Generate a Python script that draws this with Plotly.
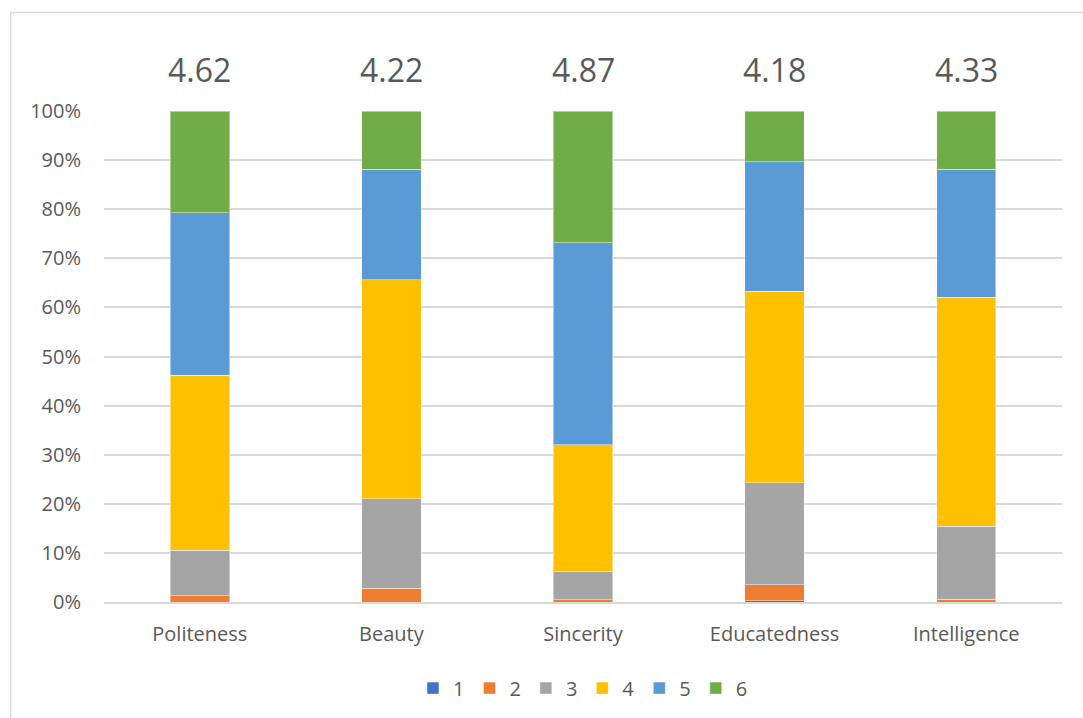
import plotly.graph_objects as go

# Rating distribution (% of respondents) per attribute, scale 1-6
categories = ["Politeness", "Beauty", "Sincerity", "Educatedness", "Intelligence"]
means = ["4.62", "4.22", "4.87", "4.18", "4.33"]
rating_1 = [0.0, 0.0, 0.0, 0.3, 0.0]
rating_2 = [1.3, 2.8, 0.5, 3.2, 0.6]
rating_3 = [9.2, 18.2, 5.8, 20.8, 14.8]
rating_4 = [35.7, 44.6, 25.7, 39.0, 46.7]
rating_5 = [33.1, 22.5, 41.2, 26.4, 26.0]
rating_6 = [20.7, 11.9, 26.8, 10.3, 11.9]
series_names = ["1", "2", "3", "4", "5", "6"]
y_ticks = [0, 10, 20, 30, 40, 50, 60, 70, 80, 90, 100]
y_tick_text = ["0%", "10%", "20%", "30%", "40%", "50%", "60%", "70%", "80%", "90%", "100%"]

series = [rating_1, rating_2, rating_3, rating_4, rating_5, rating_6]
colors = ["#4472C4", "#ED7D31", "#A5A5A5", "#FFC000", "#5B9BD5", "#70AD47"]

FONT = "'Open Sans', sans-serif"
TXT = "#595959"

fig = go.Figure()
for name, vals, col in zip(series_names, series, colors):
    fig.add_trace(go.Bar(
        x=categories, y=vals, name=name,
        marker=dict(color=col, line=dict(color="rgba(255,255,255,0.45)", width=1)),
    ))

# mean score above each column
for cat, m in zip(categories, means):
    fig.add_annotation(
        x=cat, y=1.0854, xref="x", yref="paper", text=m, showarrow=False,
        yanchor="middle", font=dict(size=32, color=TXT, family=FONT),
    )

# chart-area frame
fig.add_shape(
    type="rect", xref="paper", yref="paper",
    x0=-0.0974, x1=1.06, y0=-0.3, y1=1.2006,
    line=dict(color="#d9d9d9", width=1.3), fillcolor="rgba(0,0,0,0)", layer="below",
)

fig.update_layout(
    width=1083, height=718,
    margin=dict(l=104, r=21, t=111, b=115),
    paper_bgcolor="white", plot_bgcolor="white",
    barmode="stack", bargap=0.69,
    font=dict(family=FONT, color=TXT, size=20),
    showlegend=True,
    legend=dict(
        orientation="h", x=0.5, xanchor="center", y=-0.173, yanchor="middle",
        font=dict(size=20, color=TXT, family=FONT), traceorder="normal",
        itemwidth=30,
    ),
    xaxis=dict(
        showgrid=False, showline=True, linecolor="#d9d9d9", linewidth=1.5,
        ticks="", tickfont=dict(size=20, color=TXT, family=FONT),
        ticklabelstandoff=13,
    ),
    yaxis=dict(
        range=[0, 100], tickmode="array", tickvals=y_ticks, ticktext=y_tick_text,
        showgrid=True, gridcolor="#d9d9d9", gridwidth=1.5,
        zeroline=False, showline=False, ticks="",
        tickfont=dict(size=20, color=TXT, family=FONT),
        ticklabelstandoff=22,
    ),
)

fig.write_html("out.html")
